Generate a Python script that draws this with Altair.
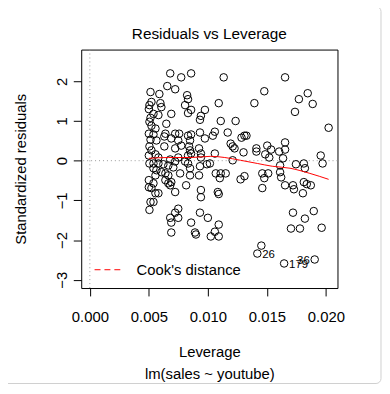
import altair as alt
import pandas as pd

# ---- data ----
leverage = [
    # dense column near the minimum leverage
    0.00514, 0.00589, 0.00522, 0.00505, 0.00598, 0.00606, 0.00500, 0.00539, 0.00581, 0.00514,
    0.00505, 0.00522, 0.00648, 0.00556, 0.00631, 0.00500, 0.00539, 0.00514, 0.00564, 0.00640,
    0.00505, 0.00631, 0.00522, 0.00500, 0.00556, 0.00581, 0.00505, 0.00539, 0.00581, 0.00623,
    0.00665, 0.00539, 0.00564, 0.00606, 0.00640, 0.00556, 0.00665, 0.00500, 0.00539, 0.00640,
    0.00665, 0.00690, 0.00681, 0.00500, 0.00522, 0.00556, 0.00581, 0.00514, 0.00539, 0.00505,
    0.00681, 0.00690, 0.00749, 0.00749, 0.00723, 0.00690,
    # middle
    0.00681, 0.00774, 0.00858, 0.00656, 0.00723, 0.00824, 0.00832, 0.00807, 0.00858, 0.00975,
    0.00690, 0.00832, 0.00941, 0.00933, 0.00757, 0.00723, 0.00832, 0.00858, 0.00933, 0.01059,
    0.01042, 0.00690, 0.00749, 0.00849, 0.00975, 0.00723, 0.00841, 0.00849, 0.00774, 0.00925,
    0.00749, 0.00832, 0.00858, 0.00941, 0.00681, 0.00723, 0.00807, 0.00832, 0.00707, 0.00765,
    0.00849, 0.00849, 0.00941, 0.00933, 0.00992, 0.01017, 0.00925, 0.00723, 0.00816, 0.00941,
    0.00941, 0.00933, 0.01000, 0.00858, 0.00891, 0.00899, 0.01025, 0.01059, 0.01092, 0.01092,
    # right-middle
    0.01134, 0.01092, 0.01394, 0.01478, 0.01109, 0.01235, 0.01168, 0.01285, 0.01310, 0.01327,
    0.01193, 0.01210, 0.01226, 0.01302, 0.01411, 0.01411, 0.01503, 0.01536, 0.01486, 0.01520,
    0.01059, 0.01210, 0.01067, 0.01109, 0.01151, 0.01101, 0.01277, 0.01310, 0.01461, 0.01511,
    0.01478, 0.01461, 0.01084, 0.01092, 0.01453, 0.01419,
    # right
    0.01654, 0.01771, 0.01846, 0.01888, 0.01738, 0.02023, 0.01654, 0.01654, 0.01604, 0.01637,
    0.01956, 0.01972, 0.01746, 0.01813, 0.01822, 0.01612, 0.01612, 0.01621, 0.01654, 0.01721,
    0.01729, 0.01813, 0.01838, 0.01872, 0.01805, 0.01721, 0.01822, 0.01897, 0.01704, 0.01780,
    0.01964, 0.01646, 0.01905,
]
std_resid = [
    1.73, 1.68, 1.48, 1.40, 1.45, 1.35, 1.30, 1.18, 1.15, 1.08,
    0.98, 0.88, 0.93, 0.81, 0.61, 0.68, 0.66, 0.53, 0.51, 0.68,
    0.36, 0.36, 0.26, 0.13, 0.16, 0.08, -0.07, -0.07, -0.07, -0.09,
    -0.12, -0.19, -0.24, -0.29, -0.32, -0.37, -0.37, -0.49, -0.57, -0.49,
    -0.57, -0.54, -0.62, -0.67, -0.69, -0.82, -0.82, -1.04, -1.04, -1.24,
    -1.44, -1.56, -1.44, -1.21, -1.31, -1.81,
    2.20, 2.10, 2.20, 1.88, 1.80, 1.65, 1.55, 1.40, 1.28, 1.28,
    1.18, 1.20, 1.13, 1.03, 0.68, 0.68, 0.63, 0.66, 0.71, 0.73,
    0.63, 0.56, 0.51, 0.51, 0.56, 0.31, 0.36, 0.26, 0.38, 0.31,
    0.08, 0.13, 0.18, 0.18, 0.03, -0.02, -0.02, -0.07, -0.17, -0.32,
    -0.19, -0.37, 0.08, -0.14, -0.09, -0.07, -0.37, -0.79, -0.62, -0.74,
    -0.92, -1.31, -1.44, -1.56, -1.81, -1.86, -1.91, -1.79, -1.61, -1.91,
    2.10, 1.45, 1.45, 1.75, 1.00, 1.00, 0.71, 0.58, 0.63, 0.63,
    0.43, 0.36, 0.31, 0.21, 0.31, 0.23, 0.38, 0.28, 0.16, 0.08,
    0.18, 0.01, -0.32, -0.32, -0.32, -0.44, -0.47, -0.39, -0.32, -0.32,
    -0.44, -0.69, -0.79, -0.84, -2.14, -2.34,
    2.10, 1.55, 1.70, 1.43, 1.23, 0.83, 0.46, 0.28, 0.23, 0.06,
    0.13, -0.07, -0.09, -0.07, -0.19, -0.12, -0.29, -0.42, -0.62, -0.62,
    -0.72, -0.54, -0.59, -0.62, -0.82, -1.31, -1.46, -1.27, -1.71, -1.71,
    -1.69, -2.59, -2.49,
]

# smoothed (red) line
smooth_lev = [0.00500, 0.00665, 0.00858, 0.01025, 0.01143, 0.01277, 0.01419, 0.01545, 0.01696, 0.01864, 0.02023]
smooth_resid = [0.06, 0.08, 0.08, 0.11, 0.08, 0.01, -0.07, -0.14, -0.19, -0.32, -0.47]

# labelled observations
id_labels = ["26", "179", "36"]
id_lev = [0.01419, 0.01646, 0.01905]
id_resid = [-2.34, -2.59, -2.49]
id_side = ["right", "right", "left"]

x_ticks = [0.0, 0.005, 0.010, 0.015, 0.020]
y_ticks = [-3, -2, -1, 0, 1, 2]
legend_labels = ["Cook's distance"]

FONT = "Liberation Sans"
XDOM = [-0.00073, 0.02098]
YDOM = [-3.209, 2.800]

pts = pd.DataFrame({"lev": leverage, "r": std_resid})
smooth = pd.DataFrame({"lev": smooth_lev, "r": smooth_resid})
ids = pd.DataFrame({"lev": id_lev, "r": id_resid, "lab": id_labels, "side": id_side})
ref = pd.DataFrame({"lev": [0.0], "r": [0.0], "name": legend_labels})

X = alt.X(
    "lev:Q",
    scale=alt.Scale(domain=XDOM, nice=False, zero=False),
    axis=alt.Axis(
        values=x_ticks, format=".3f", title=["Leverage", "lm(sales ~ youtube)"],
        titleY=69, titleBaseline="alphabetic", titleLineHeight=22,
        labelPadding=14, labelFlush=False, labelOverlap=False,
    ),
)
Y = alt.Y(
    "r:Q",
    scale=alt.Scale(domain=YDOM, nice=False, zero=False),
    axis=alt.Axis(
        values=y_ticks, format="d", title="Standardized residuals",
        titleAngle=270, titleX=-56, titleY=120.5, titleAlign="center", titleBaseline="alphabetic",
        labelAngle=270, labelAlign="center", labelBaseline="alphabetic",
        labelPadding=7, labelFlush=False, labelOverlap=False,
    ),
)

frame = alt.Chart(pd.DataFrame({"k": [0]})).mark_rect(
    fillOpacity=0, stroke="#cfcfcf", strokeWidth=1, cornerRadius=5
).encode(x=alt.value(-79), x2=alt.value(303), y=alt.value(-43.5), y2=alt.value(337.5))

vline = alt.Chart(ref).mark_rule(color="#9a9a9a", strokeDash=[1, 3], strokeWidth=1).encode(x=X)
hline = alt.Chart(ref).mark_rule(color="#9a9a9a", strokeDash=[1, 3], strokeWidth=1).encode(y=Y)

points = alt.Chart(pts).mark_point(
    shape="circle", filled=False, color="black", size=58, strokeWidth=1, opacity=1
).encode(x=X, y=Y)

line = alt.Chart(smooth).mark_line(color="#ff0000", strokeWidth=1, interpolate="monotone").encode(x=X, y=Y)

lab_r = alt.Chart(ids).transform_filter(alt.datum.side == "right").mark_text(
    align="left", baseline="middle", dx=5, dy=2, font=FONT, fontSize=11.5, color="black"
).encode(x=X, y=Y, text="lab:N")
lab_l = alt.Chart(ids).transform_filter(alt.datum.side == "left").mark_text(
    align="right", baseline="middle", dx=-5, dy=2, font=FONT, fontSize=11.5, color="black"
).encode(x=X, y=Y, text="lab:N")

legend_layer = alt.Chart(ref).mark_point(opacity=0, filled=False).encode(
    x=X, y=Y,
    color=alt.Color(
        "name:N",
        scale=alt.Scale(domain=legend_labels, range=["#ff0000"]),
        legend=alt.Legend(
            orient="none", legendX=13, legendY=209, title=None,
            symbolType="stroke", symbolSize=676, symbolStrokeWidth=1, symbolDash=[6, 4],
            symbolOpacity=1, symbolStrokeColor="#ff0000",
            labelFont=FONT, labelFontSize=15, labelColor="black", labelOffset=16, padding=0,
        ),
    ),
)

chart = alt.layer(frame, vline, hline, points, line, lab_r, lab_l, legend_layer).properties(
    width=259, height=241,
    title=alt.TitleParams(
        "Residuals vs Leverage", font=FONT, fontSize=15.5, fontWeight="normal",
        color="black", anchor="middle", offset=7, dy=44,
    ),
    autosize=alt.AutoSizeParams(type="none"),
    padding={"left": 74, "top": 40, "right": 45, "bottom": 97},
    background="white",
).configure_view(
    stroke="black", strokeWidth=1
).configure_axis(
    domain=False, grid=False, tickColor="black", tickSize=8, tickWidth=1,
    labelFont=FONT, labelFontSize=15, labelColor="black",
    titleFont=FONT, titleFontSize=15, titleFontWeight="normal", titleColor="black",
)

chart.save("out.html", embed_options={"renderer": "svg", "actions": False})
